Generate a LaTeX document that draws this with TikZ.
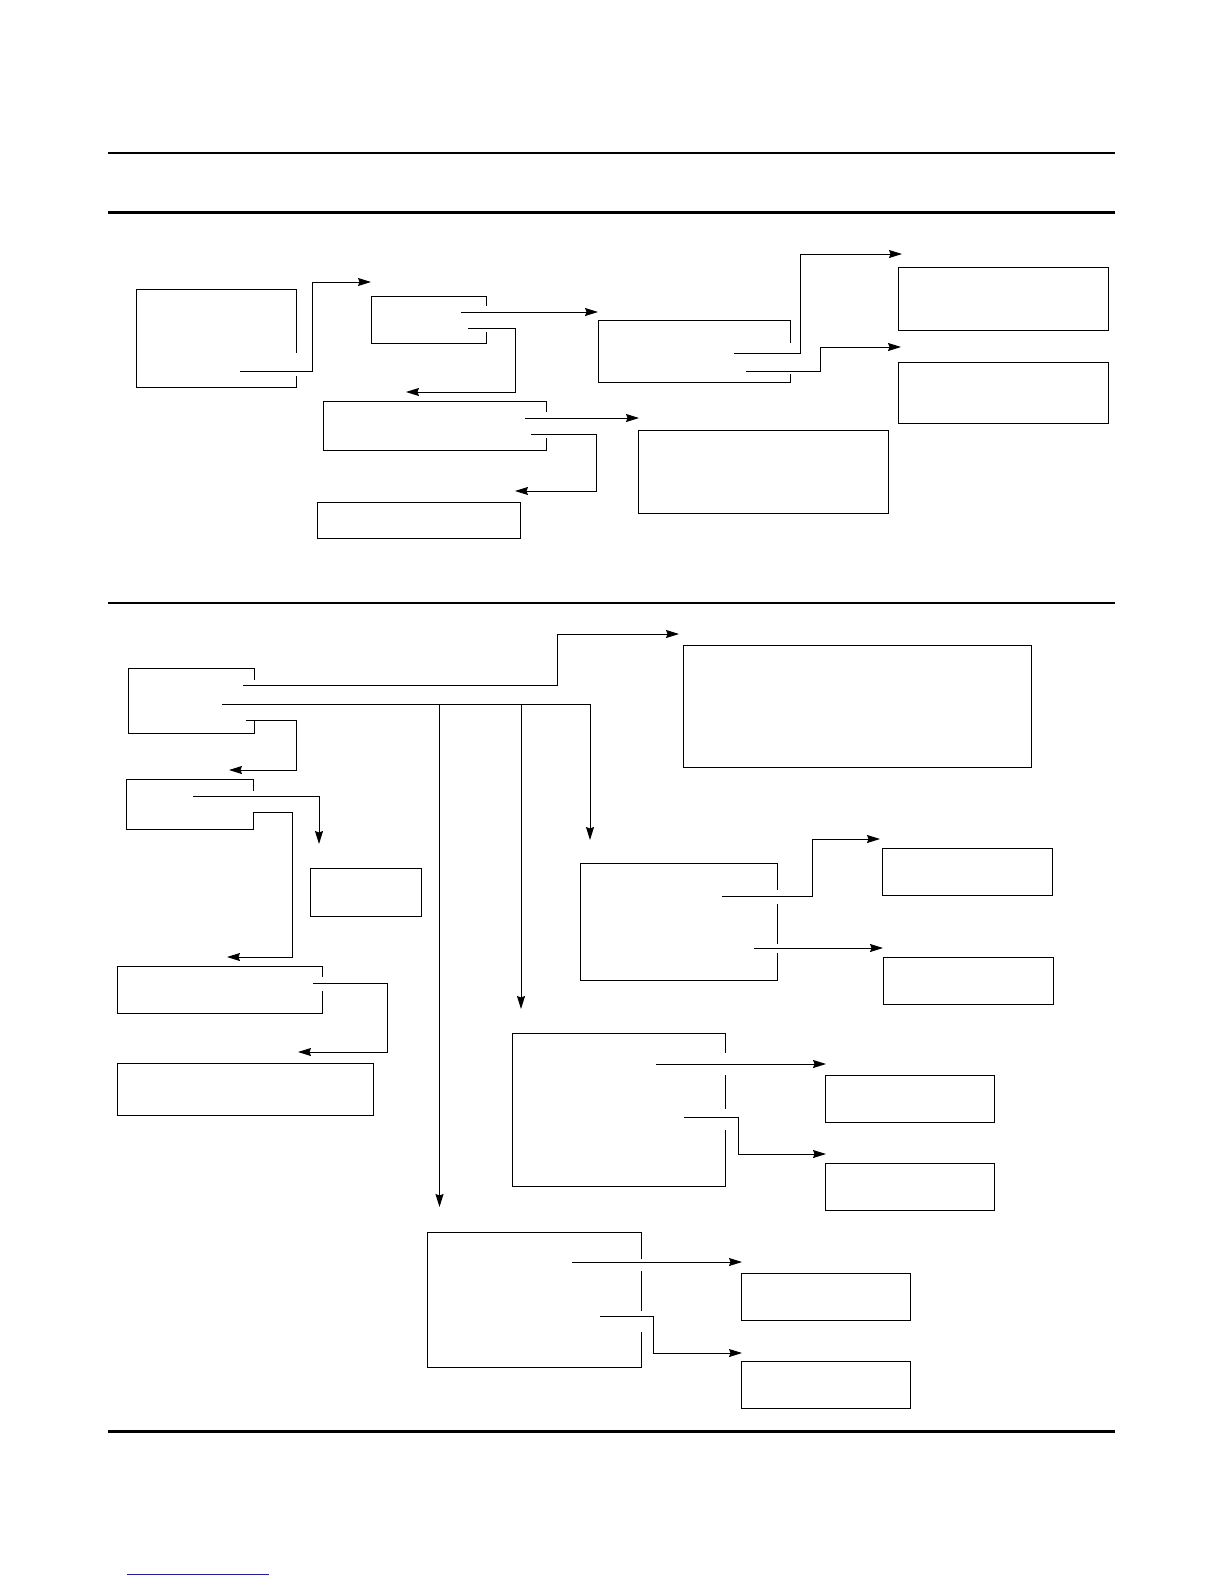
\documentclass[tikz,border=0pt]{standalone}
\usepackage{tikz}
\usetikzlibrary{arrows.meta,positioning,fit}
\definecolor{linkblue}{HTML}{1E1E9C}
% white notch in a box's right edge where a connector leaves it
\newcommand{\edgegap}[3]{\fill[white] (#1.east |- 0,#2) ++(-2,0) rectangle ++(4,#3-#2);}

\begin{document}
\begin{tikzpicture}[
  x=1pt, y=-1pt,
  >={Stealth[length=13pt, width=8pt, inset=1.5pt]},
  box/.style={draw, line width=1pt, inner sep=0pt, fit={#1}},
  flow/.style={->, line width=1pt},
  rule/.style={line width=2.2pt},
  thinrule/.style={line width=1.1pt}
]
\useasboundingbox (0,0) rectangle (1224,1584);

%% ---- page rules -----------------------------------------------------------
\draw[thinrule] (108,153) -- (1115,153);
\draw[rule] (108,212.5) -- (1115,212.5);
\draw[rule] (108,603) -- (1115,603);
\draw[rule] (108,1431.5) -- (1115,1431.5);
\draw[draw=linkblue, line width=1pt] (127,1574) -- (269,1574);

%% ---- upper chart ----------------------------------------------------------
\node[box={(136,289) (296,387)}] (src) {};
\node[box={(371,296) (486,343)}] (split) {};
\node[box={(323,401) (546,450)}] (mid) {};
\node[box={(317,502) (520,538)}] (tail) {};
\node[box={(598,320) (790,382)}] (fork) {};
\node[box={(898,267) (1108,330)}] (upA) {};
\node[box={(898,362) (1108,423)}] (upB) {};
\node[box={(638,430) (888,513)}] (wide) {};

\edgegap{src}{353}{376}
\edgegap{split}{306}{332}
\edgegap{mid}{412}{438}
\edgegap{fork}{343}{374}

\coordinate (src-out)   at (240,371);
\coordinate (split-in)  at (371,282);
\coordinate (split-o1)  at (461,312);
\coordinate (split-o2)  at (468,328);
\coordinate (fork-in)   at (598,312);
\coordinate (mid-in)    at (406,392);
\coordinate (mid-o1)    at (525,418);
\coordinate (mid-o2)    at (531,434);
\coordinate (wide-in)   at (639,418);
\coordinate (tail-in)   at (515,491);
\coordinate (fork-o1)   at (734,353);
\coordinate (fork-o2)   at (746,371);
\coordinate (upA-in)    at (902,254);
\coordinate (upB-in)    at (901,347);

\draw[flow] (src-out) -- ++(72,0) |- (split-in);
\draw[flow] (split-o1) -- (fork-in);
\draw[flow] (split-o2) -- ++(47,0) |- (mid-in);
\draw[flow] (mid-o1) -- (wide-in);
\draw[flow] (mid-o2) -- ++(65,0) |- (tail-in);
\draw[flow] (fork-o1) -- ++(66,0) |- (upA-in);
\draw[flow] (fork-o2) -- ++(74,0) |- (upB-in);

%% ---- lower chart ----------------------------------------------------------
\node[box={(128.5,668) (254.5,733)}] (root) {};
\node[box={(126.5,779) (253,829)}] (second) {};
\node[box={(310,868) (421,916)}] (small) {};
\node[box={(117,966) (322,1013)}] (third) {};
\node[box={(117,1063) (373,1115)}] (last) {};
\node[box={(683,645) (1031,767)}] (big) {};
\node[box={(580,863) (777,980)}] (brA) {};
\node[box={(882,848) (1052,895)}] (brA1) {};
\node[box={(883,957) (1053,1004)}] (brA2) {};
\node[box={(512,1033) (725,1186)}] (brB) {};
\node[box={(825,1075) (994,1122)}] (brB1) {};
\node[box={(825,1163) (994,1210)}] (brB2) {};
\node[box={(427,1232) (641,1367)}] (brC) {};
\node[box={(741,1273) (910,1320)}] (brC1) {};
\node[box={(741,1361) (910,1408)}] (brC2) {};

\edgegap{root}{680}{721}
\edgegap{second}{791}{812}
\edgegap{third}{977}{991}
\edgegap{brA}{890}{904}
\edgegap{brA}{944}{953}
\edgegap{brB}{1053}{1075}
\edgegap{brB}{1109}{1130}
\edgegap{brC}{1259}{1271}
\edgegap{brC}{1311}{1332}

\coordinate (root-o1)   at (243,685);
\coordinate (root-bus)  at (222,704);
\coordinate (root-o3)   at (245.5,720);
\coordinate (big-in)    at (679,634);
\coordinate (brA-in)    at (590,840);
\coordinate (brB-in)    at (521,1009);
\coordinate (brC-in)    at (439.5,1207);
\coordinate (second-in) at (229,770);
\coordinate (second-o1) at (193,796);
\coordinate (second-o2) at (253,812);
\coordinate (small-in)  at (319,844);
\coordinate (third-in)  at (227,957);
\coordinate (third-out) at (313,983);
\coordinate (last-in)   at (298,1052);
\coordinate (brA-o1)    at (722,896);
\coordinate (brA-o2)    at (754,948);
\coordinate (brA1-in)   at (880,839);
\coordinate (brA2-in)   at (883,948);
\coordinate (brB-o1)    at (656,1064);
\coordinate (brB-o2)    at (684,1117);
\coordinate (brB1-in)   at (826,1064);
\coordinate (brB2-in)   at (826,1154);
\coordinate (brC-o1)    at (572,1262);
\coordinate (brC-o2)    at (600,1316);
\coordinate (brC1-in)   at (742,1262);
\coordinate (brC2-in)   at (742,1353);

\draw[flow] (root-o1) -- ++(314,0) |- (big-in);
\draw[flow] (root-bus) -| (brA-in);
\draw[flow] (root-bus -| brB-in) -- (brB-in);
\draw[flow] (root-bus -| brC-in) -- (brC-in);
\draw[flow] (root-o3) -- ++(51,0) |- (second-in);
\draw[flow] (second-o1) -| (small-in);
\draw[flow] (second-o2) -- ++(39.5,0) |- (third-in);
\draw[flow] (third-out) -- ++(74,0) |- (last-in);

\draw[flow] (brA-o1) -- ++(90,0) |- (brA1-in);
\draw[flow] (brA-o2) -- (brA2-in);
\draw[flow] (brB-o1) -- (brB1-in);
\draw[flow] (brB-o2) -- ++(54,0) |- (brB2-in);
\draw[flow] (brC-o1) -- (brC1-in);
\draw[flow] (brC-o2) -- ++(53,0) |- (brC2-in);

\end{tikzpicture}
\end{document}
